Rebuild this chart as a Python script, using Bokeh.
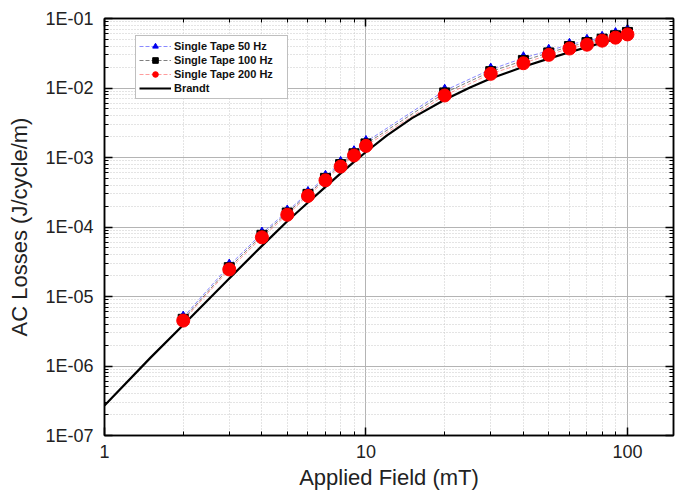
from bokeh.plotting import figure
from bokeh.models import (LogAxis, FixedTicker, CustomJSTickFormatter, Legend,
                          LegendItem, Range1d)
from bokeh.embed import file_html
from bokeh.resources import INLINE

# Measured AC losses of a single tape at three frequencies (J/cycle/m)
field_mT = [2, 3, 4, 5, 6, 7, 8, 9, 10, 20, 30, 40, 50, 60, 70, 80, 90, 100]
loss_50hz = [5.0e-6, 2.8e-5, 8.1e-5, 1.68e-4, 3.1e-4, 5.3e-4, 8.4e-4, 1.2e-3, 1.68e-3,
             9.2e-3, 1.85e-2, 2.7e-2, 3.45e-2, 4.2e-2, 4.8e-2, 5.3e-2, 6.0e-2, 6.7e-2]
loss_100hz = [4.7e-6, 2.6e-5, 7.6e-5, 1.59e-4, 2.95e-4, 5.0e-4, 7.9e-4, 1.13e-3, 1.57e-3,
              8.5e-3, 1.72e-2, 2.48e-2, 3.2e-2, 3.95e-2, 4.5e-2, 5.05e-2, 5.65e-2, 6.3e-2]
loss_200hz = [4.5e-6, 2.45e-5, 7.1e-5, 1.5e-4, 2.8e-4, 4.7e-4, 7.4e-4, 1.07e-3, 1.47e-3,
              7.8e-3, 1.6e-2, 2.27e-2, 3.0e-2, 3.7e-2, 4.2e-2, 4.8e-2, 5.3e-2, 5.9e-2]

# Brandt thin-strip curve
brandt_field = [1, 1.5, 2, 3, 4, 5, 6, 7, 8, 9, 10, 12, 15, 20, 25, 30, 40, 50, 60, 70, 80, 90, 100]
brandt_loss = [2.7e-7, 1.32e-6, 3.89e-6, 1.82e-5, 5.35e-5, 1.21e-4, 2.25e-4, 3.78e-4, 5.9e-4,
               8.67e-4, 1.2e-3, 2.07e-3, 3.69e-3, 6.76e-3, 1.02e-2, 1.37e-2, 2.02e-2, 2.65e-2,
               3.27e-2, 3.87e-2, 4.47e-2, 5.06e-2, 5.65e-2]

# Axis ticks
x_major = [1, 10, 100]
x_minor = [2, 3, 4, 5, 6, 7, 8, 9, 20, 30, 40, 50, 60, 70, 80, 90]
y_major = [1e-7, 1e-6, 1e-5, 1e-4, 1e-3, 1e-2, 1e-1]
y_minor = [m * d for d in y_major[:-1] for m in range(2, 10)]

FONT = "Liberation Sans"

p = figure(width=681, height=500, x_axis_type="log", y_axis_type="log",
           output_backend="svg", toolbar_location=None,
           min_border_left=104, min_border_right=8, min_border_top=18,
           min_border_bottom=65, background_fill_color="white",
           border_fill_color="white", outline_line_color="black",
           outline_line_width=1.5)
p.x_range = Range1d(1, 150)
p.y_range = Range1d(1e-7, 1e-1)

xt = FixedTicker(ticks=x_major, minor_ticks=x_minor)
yt = FixedTicker(ticks=y_major, minor_ticks=y_minor)

sci = CustomJSTickFormatter(code="""
const e = Math.round(Math.log10(tick));
const s = String(Math.abs(e)).padStart(2, '0');
return '1E' + (e < 0 ? '-' : '+') + s;
""")
plain = CustomJSTickFormatter(code="return String(Math.round(tick));")
blank = CustomJSTickFormatter(code="return '';")


def style_axis(ax, ticker):
    ax.ticker = ticker
    ax.axis_line_color = "black"
    ax.axis_line_width = 1.5
    ax.major_tick_in = 8
    ax.major_tick_out = 0
    ax.minor_tick_in = 4
    ax.minor_tick_out = 0
    ax.major_tick_line_color = "black"
    ax.minor_tick_line_color = "black"
    ax.major_tick_line_width = 1.5
    ax.minor_tick_line_width = 1
    ax.major_label_text_font = FONT
    ax.major_label_text_font_size = "18px"
    ax.major_label_text_color = "#222222"
    ax.axis_label_text_font = FONT
    ax.axis_label_text_font_style = "normal"
    ax.axis_label_text_font_size = "22px"
    ax.axis_label_text_color = "#222222"


style_axis(p.xaxis[0], xt)
style_axis(p.yaxis[0], yt)
p.xaxis[0].formatter = plain
p.yaxis[0].formatter = sci
p.xaxis[0].major_label_standoff = 9
p.yaxis[0].major_label_standoff = 11
p.xaxis[0].axis_label = "Applied Field (mT)"
p.yaxis[0].axis_label = "AC Losses (J/cycle/m)"
p.xaxis[0].axis_label_standoff = 4
p.yaxis[0].axis_label_standoff = 10

# mirrored axes on top and right: ticks only
top_ax = LogAxis(formatter=blank)
right_ax = LogAxis(formatter=blank)
for ax, tk in ((top_ax, xt), (right_ax, yt)):
    style_axis(ax, tk)
    ax.major_label_text_font_size = "1px"
    ax.major_label_standoff = 0
p.add_layout(top_ax, "above")
p.add_layout(right_ax, "right")

for g, tk in ((p.xgrid[0], xt), (p.ygrid[0], yt)):
    g.ticker = tk
    g.grid_line_color = "#b4b4b4"
    g.grid_line_width = 1
    g.minor_grid_line_color = "#c8c8c8"
    g.minor_grid_line_dash = "1 2"
    g.minor_grid_line_width = 1

# connecting dashed lines
l50 = p.line(field_mT, loss_50hz, line_color="#3c3cff", line_width=1,
             line_dash="4 2", line_alpha=0.6)
l100 = p.line(field_mT, loss_100hz, line_color="#000000", line_width=1,
              line_dash="4 2", line_alpha=0.5)
l200 = p.line(field_mT, loss_200hz, line_color="#ff3c3c", line_width=1,
              line_dash="4 2", line_alpha=0.5)

brandt = p.line(brandt_field, brandt_loss, line_color="black", line_width=2.2,
                line_join="round")

s50 = p.scatter(field_mT, loss_50hz, marker="triangle", size=11,
                fill_color="#0000ee", line_color="#0000ee")
s100 = p.scatter(field_mT, loss_100hz, marker="square", size=10,
                 fill_color="black", line_color="black")
s200 = p.scatter(field_mT, loss_200hz, marker="circle", size=13,
                 fill_color="#ff0000", line_color="#ff0000")

legend = Legend(items=[
    LegendItem(label="Single Tape 50 Hz", renderers=[l50, s50]),
    LegendItem(label="Single Tape 100 Hz", renderers=[l100, s100]),
    LegendItem(label="Single Tape 200 Hz", renderers=[l200, s200]),
    LegendItem(label="Brandt", renderers=[brandt]),
], location=(31, 336))
legend.label_text_font = FONT
legend.label_text_font_style = "bold"
legend.label_text_font_size = "11px"
legend.label_text_color = "#111111"
legend.label_height = 14
legend.glyph_height = 14
legend.glyph_width = 32
legend.label_standoff = 3
legend.label_width = 110
legend.spacing = 0
legend.padding = 3
legend.margin = 0
legend.border_line_color = "#808080"
legend.border_line_width = 1
legend.background_fill_color = "white"
legend.background_fill_alpha = 1
p.add_layout(legend)

open("out.html", "w").write(file_html(p, INLINE))
